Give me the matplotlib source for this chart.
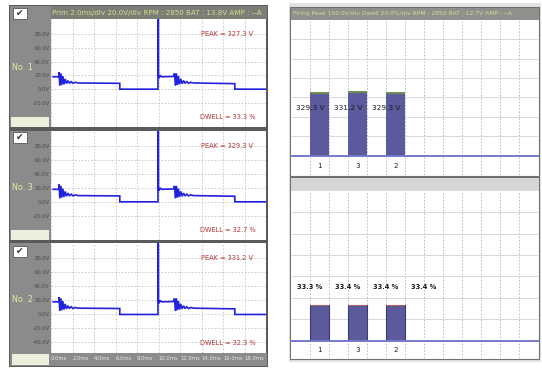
import matplotlib
matplotlib.use('Agg')
import matplotlib.pyplot as plt
from matplotlib.patches import Rectangle

W, H = 542, 370

# ---------------- data ----------------
cylinder_names = ['No. 1', 'No. 3', 'No. 2']
peak_volts = [327.3, 329.3, 331.2]
dwell_percent = [33.3, 32.7, 32.3]

header_left = 'Prim 2.0ms/div 20.0V/div RPM : 2850 BAT : 13.8V AMP : --A'
header_right = 'Firing Peak 100.0V/div Dwell 20.0%/div RPM : 2850 BAT : 12.7V AMP : --A'

time_ticks = [0, 2, 4, 6, 8, 10, 12, 14, 16, 18]
time_labels = ['0.0ms', '2.0ms', '4.0ms', '6.0ms', '8.0ms',
               '10.0ms', '12.0ms', '14.0ms', '16.0ms', '18.0ms']
volt_ticks = [80, 60, 40, 20, 0, -20, -40]
volt_labels = ['80.0V', '60.0V', '40.0V', '20.0V', '0.0V', '-20.0V', '-40.0V']

# primary waveform (ms, V); the spike point is replaced by each cylinder's peak
wave_t = [0.2, 0.72, 0.75, 0.82, 0.92, 1.0, 1.1, 1.2, 1.32, 1.44, 1.58, 1.72,
          1.88, 2.05, 2.25, 2.5,
          6.4, 6.4, 9.95, 9.95, 10.0, 10.05, 10.15, 10.3,
          11.45, 11.45, 11.5, 11.57, 11.67, 11.75, 11.85, 11.95, 12.07, 12.19,
          12.33, 12.47, 12.63, 12.8, 13.0, 13.25, 17.1, 17.1, 20.0]
wave_v = [18, 18, 25, 5, 23, 6, 19, 7, 15, 8, 12.5, 8.5,
          11, 8.5, 10, 9,
          8.5, 0, 0, 300, 19, 16, 20, 18,
          18.5, 22, 22, 5, 23, 6, 19, 7, 15, 8,
          12.5, 8.5, 11, 8.5, 10, 9, 8, 0, 0]
spike_index = 19

firing_cyl = ['1', '3', '2']
firing_volts = [329.3, 331.2, 329.3]
spark_cap = [10, 10, 10]
dwell_cyl = ['1', '3', '2']
dwell_bar_pct = [33.3, 33.4, 33.4, 0.0]
dwell_text_pct = [33.3, 33.4, 33.4, 33.4]

# ---------------- figure ----------------
fig = plt.figure(figsize=(W / 100, H / 100), dpi=100)
fig.patch.set_facecolor('white')


def px_axes(x0, y0, x1, y1, z=2):
    return fig.add_axes([x0 / W, 1 - y1 / H, (x1 - x0) / W, (y1 - y0) / H], zorder=z)


bg = fig.add_axes([0, 0, 1, 1], zorder=0)
bg.set_xlim(0, W)
bg.set_ylim(H, 0)
bg.axis('off')


def rect(x0, y0, x1, y1, fc, ec='none', lw=0):
    bg.add_patch(Rectangle((x0, y0), x1 - x0, y1 - y0, facecolor=fc, edgecolor=ec, linewidth=lw))


# ---------- left panel ----------
rect(9, 5, 268, 367, '#5a5a5a')
rect(10, 6, 267, 19, '#7d7d78')
bg.text(52, 12.8, header_left, fontsize=5.1, color='#d8dc8c', va='center', ha='left')
panels = [(19, 127), (131, 240), (243, 353)]
for (y0, y1) in panels:
    rect(10, y0 - (13 if y0 == 19 else 0), 50.5, y1, '#8b8b8b')
rect(10, 353, 267, 366, '#8b8b8b')
# cream boxes
rect(11, 117, 49, 127, '#eeeedc')
rect(11, 230, 49, 240, '#eeeedc')
rect(12, 354, 49, 365, '#eeeedc')
# checkboxes
for yc in [8, 132, 246]:
    rect(13, yc, 27, yc + 11, 'white', '#555555', 0.6)
    bg.text(20, yc + 5.8, '\u2714', fontsize=6.5, color='#333333', ha='center', va='center')

for i, (y0, y1) in enumerate(panels):
    ax = px_axes(51, y0, 266, y1)
    ax.set_facecolor('white')
    ax.set_xlim(0, 20)
    ax.set_ylim(-55, 102)
    v = list(wave_v)
    v[spike_index] = peak_volts[i]
    ax.plot(wave_t, v, color='#2222dd', lw=1.2, solid_joinstyle='miter')
    ax.set_xticks(time_ticks + [20])
    if i == 2:
        ax.set_yticks(volt_ticks, volt_labels)
    else:
        ax.set_yticks(volt_ticks[:-1], volt_labels[:-1])
    ax.grid(True, color='#c4c4c4', lw=0.6, ls=(0, (2, 2)))
    ax.tick_params(axis='both', length=0)
    ax.tick_params(axis='y', labelsize=3.8, labelcolor='#4a4a55', pad=1)
    if i == 2:
        ax.set_xticks(time_ticks + [20], time_labels + [''])
        for lab in ax.get_xticklabels():
            lab.set_ha('left')
        ax.tick_params(axis='x', labelsize=3.8, labelcolor='#e8e8e8', pad=2.2)
    else:
        ax.set_xticklabels([])
    for s in ax.spines.values():
        s.set_visible(False)
    ax.text(0.94, 0.86, f'PEAK = {peak_volts[i]} V', transform=ax.transAxes,
            fontsize=4.8, color='#b03535', ha='right', va='center')
    ax.text(0.95, 0.09, f'DWELL = {dwell_percent[i]} %', transform=ax.transAxes,
            fontsize=4.8, color='#b03535', ha='right', va='center')
    bg.text(22.5, (y0 + 49) if i == 0 else (y0 + 57), cylinder_names[i],
            fontsize=5.8, color='#e8eaa6', ha='center', va='center', zorder=5)

# ---------- right panels ----------
rect(289, 3, 541, 362, '#e4e4e4')
# top chart frame
rect(290, 7, 539, 176, 'white', '#707070', 0.8)
rect(290.5, 7.5, 538.5, 20, '#8f8f8c')
bg.text(293, 14, header_right, fontsize=4.3, color='#d6dd96', va='center', ha='left')
# bottom chart frame
rect(290, 177, 539, 359, 'white', '#707070', 0.8)
rect(290.5, 177.5, 538.5, 190.5, '#d6d6d6')

grid_x = list(range(1, 13))
slot_x = [1.5 + 2 * k for k in range(4)]


def bar_axes(y0, y1, ymax, ystep):
    ax = px_axes(291, y0, 538, y1)
    ax.set_xlim(0, 13)
    ax.set_ylim(0, ymax)
    ax.set_xticks(grid_x)
    ax.set_yticks(list(range(ystep, ymax, ystep)))
    ax.grid(True, axis='x', color='#b4b4b4', lw=0.6, ls=(0, (2, 2)))
    ax.grid(True, axis='y', color='#d2d2d2', lw=0.6)
    ax.tick_params(length=0, labelbottom=False, labelleft=False)
    for s in ax.spines.values():
        s.set_visible(False)
    ax.axhline(0, color='#7878cc', lw=1.4, zorder=4, clip_on=False)
    return ax


def label_axes(y0, y1, names):
    ax = px_axes(291, y0, 538, y1)
    ax.set_xlim(0, 13)
    ax.set_ylim(0, 1)
    ax.set_xticks(grid_x)
    ax.set_yticks([])
    ax.grid(True, axis='x', color='#b4b4b4', lw=0.6, ls=(0, (2, 2)))
    ax.tick_params(length=0, labelbottom=False)
    for s in ax.spines.values():
        s.set_visible(False)
    for k, n in enumerate(names):
        ax.text(slot_x[k], 0.5, n, fontsize=5.2, color='#222222', ha='center', va='center')
    return ax


# firing peak chart
axf = bar_axes(20, 155.5, 700, 100)
nf = len(firing_volts)
axf.bar(slot_x[:nf], firing_volts, width=1.0, color='#5a5a9c', zorder=3)
axf.bar(slot_x[:nf], spark_cap, bottom=[v - c for v, c in zip(firing_volts, spark_cap)],
        width=1.0, color='#6f8c52', zorder=3)
for k, val in enumerate(firing_volts):
    axf.text(slot_x[k] - 0.5, 245, f'{val} V', fontsize=5.3, color='#1a1a1a',
             ha='center', va='center', zorder=5)
label_axes(156.5, 175, firing_cyl)

# dwell chart
axd = bar_axes(191, 340.5, 140, 20)
axd.bar(slot_x, dwell_bar_pct, width=1.0, color='#5a5a9c', edgecolor='#3c3c70',
        linewidth=0.8, zorder=3)
axd.bar(slot_x[:3], [0.8] * 3, bottom=[v - 0.8 for v in dwell_bar_pct[:3]], width=1.0,
        color='#b06060', zorder=3)
for k, val in enumerate(dwell_text_pct):
    axd.text(slot_x[k] - 0.5, 50, f'{val} %', fontsize=4.8, color='#1a1a1a',
             ha='center', va='center', fontweight='bold', zorder=5)
label_axes(341.5, 358, dwell_cyl)

fig.savefig('out.png', dpi=100)
